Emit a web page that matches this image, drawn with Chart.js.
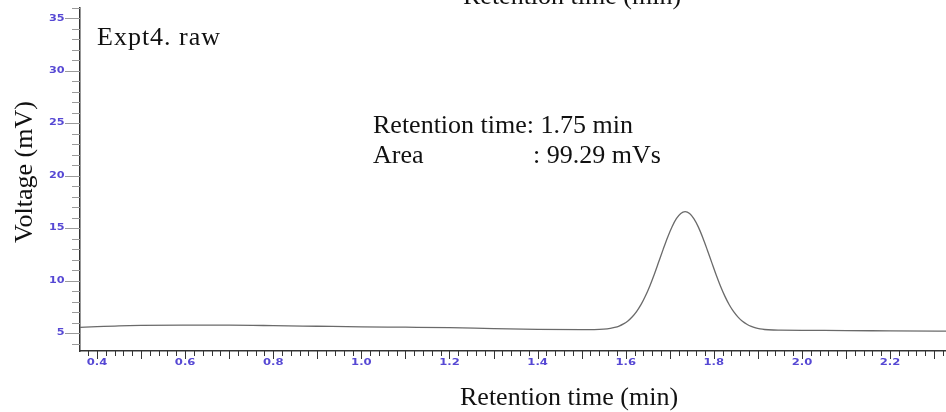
<!DOCTYPE html>
<html>
<head>
<meta charset="utf-8">
<script src="https://cdn.jsdelivr.net/npm/chart.js@4/dist/chart.umd.min.js"></script>
<style>
  html, body { margin: 0; padding: 0; background: #ffffff; }
  #wrap { width: 946px; height: 412px; position: relative; }
</style>
</head>
<body>
<div id="wrap"><canvas id="c" width="946" height="412"></canvas></div>
<script>
// ---- data ----
const retentionTimes = [0.36,0.40,0.45,0.50,0.60,0.70,0.80,0.90,1.00,1.10,1.20,1.30,1.40,1.50,1.55,
  1.565,1.575,1.585,1.595,1.605,1.615,1.625,1.635,1.645,1.655,1.665,1.675,1.685,1.695,1.705,1.715,1.725,
  1.735,1.745,1.755,1.765,1.775,1.785,1.795,1.805,1.815,1.825,1.835,1.845,1.855,1.865,1.875,1.885,1.895,
  1.905,1.915,1.935,1.95,2.00,2.10,2.20,2.33];
const voltages = [5.54,5.62,5.70,5.74,5.76,5.76,5.72,5.66,5.60,5.57,5.53,5.44,5.37,5.34,5.39,
  5.46,5.55,5.68,5.88,6.16,6.56,7.08,7.74,8.56,9.53,10.62,11.80,12.99,14.13,15.13,15.91,16.41,
  16.58,16.40,15.89,15.11,14.10,12.96,11.77,10.59,9.50,8.53,7.71,7.05,6.53,6.13,5.85,5.64,5.50,
  5.41,5.35,5.30,5.29,5.27,5.25,5.22,5.19];
const xTickLabels = [0.4,0.6,0.8,1.0,1.2,1.4,1.6,1.8,2.0,2.2];
const yTickLabels = [5,10,15,20,25,30,35];
const sampleName = 'Expt4. raw';
const peakInfo = ['Retention time: 1.75 min', 'Area', ': 99.29 mVs'];
const xTitle = 'Retention time (min)';
const yTitle = 'Voltage (mV)';

const points = retentionTimes.map((t, i) => ({ x: t, y: voltages[i] }));

const deco = {
  id: 'deco',
  afterDraw(chart) {
    const { ctx, scales: { x, y }, chartArea: a } = chart;
    ctx.save();
    // y ticks
    ctx.lineWidth = 1;
    ctx.strokeStyle = '#9a9a9a';
    for (let v = Math.ceil(y.min); v <= y.max; v++) {
      const py = Math.round(y.getPixelForValue(v)) + 0.5;
      const len = (v % 5 === 0) ? 15 : 8;
      ctx.beginPath(); ctx.moveTo(a.left - len, py); ctx.lineTo(a.left, py); ctx.stroke();
    }
    // x ticks
    ctx.strokeStyle = '#333333';
    for (let k = Math.ceil(x.min * 50); k <= Math.floor(x.max * 50); k++) {
      const px = Math.round(x.getPixelForValue(k / 50)) + 0.5;
      const len = (k % 5 === 0) ? 8 : 5;
      ctx.beginPath(); ctx.moveTo(px, a.bottom); ctx.lineTo(px, a.bottom + len); ctx.stroke();
    }
    // tick labels
    ctx.fillStyle = '#5648d4';
    ctx.font = 'bold 8px "DejaVu Sans"';
    ctx.textBaseline = 'middle';
    yTickLabels.forEach(v => {
      ctx.save();
      ctx.translate(a.left - 15.5, y.getPixelForValue(v));
      ctx.scale(1.4, 1);
      ctx.textAlign = 'right';
      ctx.fillText(String(v), 0, 0);
      ctx.restore();
    });
    xTickLabels.forEach(v => {
      ctx.save();
      ctx.translate(x.getPixelForValue(v), a.bottom + 12);
      ctx.scale(1.45, 1);
      ctx.textAlign = 'center';
      ctx.fillText(v.toFixed(1), 0, 0);
      ctx.restore();
    });
    // texts
    ctx.fillStyle = '#111111';
    ctx.textBaseline = 'alphabetic';
    ctx.textAlign = 'left';
    ctx.font = '26px "Liberation Serif"';
    ctx.letterSpacing = '1px';
    ctx.fillText(sampleName, 97, 45);
    ctx.letterSpacing = '0px';
    ctx.fillText(peakInfo[0], 373, 133);
    ctx.fillText(peakInfo[1], 373, 163);
    ctx.fillText(peakInfo[2], 533, 163);
    ctx.fillText(xTitle, 460, 405);
    ctx.fillText(xTitle, 463, 4);
    ctx.save();
    ctx.translate(32, 172);
    ctx.rotate(-Math.PI / 2);
    ctx.textAlign = 'center';
    ctx.fillText(yTitle, 0, 0);
    ctx.restore();
    ctx.restore();
  }
};

new Chart(document.getElementById('c'), {
  type: 'line',
  data: {
    datasets: [{
      data: points,
      borderColor: '#6a6a6a',
      borderWidth: 1.3,
      pointRadius: 0,
      fill: false,
      tension: 0.4,
      cubicInterpolationMode: 'monotone'
    }]
  },
  options: {
    responsive: false,
    animation: false,
    layout: { padding: { top: 8, right: 0, left: 0, bottom: 0 } },
    plugins: { legend: { display: false }, tooltip: { enabled: false } },
    scales: {
      x: {
        type: 'linear',
        min: 0.3614,
        max: 2.327,
        grid: { display: false },
        border: { display: true, color: '#333333', width: 1.5 },
        ticks: { display: false },
        afterFit: s => { s.height = 61; }
      },
      y: {
        type: 'linear',
        min: 3.3,
        max: 36,
        grid: { display: false },
        border: { display: true, color: '#333333', width: 1.5 },
        ticks: { display: false },
        afterFit: s => { s.width = 80; }
      }
    }
  },
  plugins: [deco]
});
</script>
</body>
</html>
